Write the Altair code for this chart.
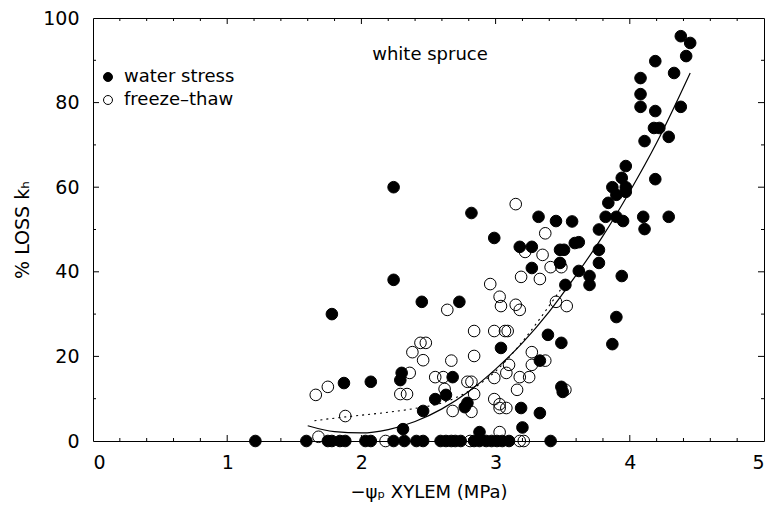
import altair as alt
import pandas as pd

# ---- data ----
ws_zero_x = [1.21, 1.59, 1.75, 1.78, 1.84, 1.88, 2.03, 2.07, 2.24, 2.32, 2.41, 2.46, 2.59, 2.63,
             2.67, 2.70, 2.74, 2.84, 2.88, 2.93, 2.97, 3.01, 3.05, 3.10, 3.41]
ws_x = [1.78, 1.87, 2.07, 2.24, 2.24, 2.29, 2.30, 2.31, 2.45, 2.46, 2.55, 2.63, 2.68, 2.73, 2.77,
        2.79, 2.82, 2.88, 2.99, 3.04, 3.19, 3.20, 3.18, 3.27, 3.27, 3.32, 3.33, 3.33, 3.39, 3.45,
        3.48, 3.48, 3.49, 3.49, 3.50, 3.51, 3.52, 3.57, 3.59, 3.62, 3.62, 3.70, 3.70, 3.77, 3.77,
        3.77, 3.82, 3.84, 3.87, 3.87, 3.90, 3.90, 3.90, 3.94, 3.94, 3.95, 3.97, 3.97, 3.97, 4.08,
        4.08, 4.08, 4.10, 4.11, 4.11, 4.18, 4.19, 4.19, 4.19, 4.22, 4.29, 4.29, 4.33, 4.38, 4.38,
        4.42, 4.45]
ws_y = [30.0, 13.7, 14.0, 60.0, 38.1, 14.4, 16.1, 2.8, 32.9, 7.1, 9.9, 10.9, 15.1, 32.9, 8.0,
        9.0, 53.9, 2.1, 48.0, 22.0, 7.8, 3.2, 45.9, 45.9, 40.9, 53.0, 19.0, 6.6, 25.1, 52.0,
        45.2, 42.1, 23.2, 12.8, 11.6, 45.2, 36.9, 51.9, 46.8, 47.0, 40.2, 39.0, 36.9, 50.0, 45.2,
        42.1, 53.0, 56.3, 60.0, 22.9, 58.2, 53.0, 29.3, 62.2, 39.0, 52.0, 60.0, 58.9, 65.0, 85.8,
        82.0, 79.0, 53.0, 50.1, 70.9, 74.0, 89.8, 78.0, 61.9, 74.0, 71.9, 53.0, 87.0, 95.7, 79.0,
        91.0, 94.1]

ft_zero_x = [2.18, 2.81, 3.18, 3.21]
ft_x = [1.68, 1.66, 1.75, 1.88, 2.29, 2.34, 2.36, 2.38, 2.44, 2.48, 2.46, 2.55, 2.61, 2.62, 2.64,
        2.67, 2.68, 2.79, 2.82, 2.82, 2.84, 2.84, 2.84, 2.96, 2.99, 2.99, 2.99, 3.03, 3.04, 3.03,
        3.03, 3.03, 3.08, 3.07, 3.09, 3.08, 3.10, 3.15, 3.15, 3.18, 3.16, 3.18, 3.19, 3.22, 3.25,
        3.27, 3.27, 3.33, 3.35, 3.37, 3.37, 3.41, 3.45, 3.49, 3.52, 3.53]
ft_y = [1.0, 10.9, 12.8, 5.9, 11.1, 11.1, 16.1, 21.0, 23.2, 23.2, 19.1, 15.1, 15.1, 12.3, 31.0,
        19.0, 7.1, 14.0, 14.0, 6.9, 26.0, 20.1, 11.1, 37.1, 26.0, 14.9, 9.9, 34.1, 31.9, 8.7,
        7.8, 2.1, 7.8, 26.0, 26.0, 16.1, 18.0, 56.0, 32.2, 31.0, 12.1, 15.1, 38.8, 44.7, 15.1,
        21.0, 18.0, 38.3, 44.0, 49.1, 19.0, 41.1, 32.9, 41.1, 12.1, 31.9]

fit_ws_x = [1.6, 1.8, 2.0, 2.2, 2.4, 2.6, 2.8, 3.0, 3.2, 3.4, 3.6, 3.8, 4.0, 4.2, 4.45]
fit_ws_y = [3.6, 2.2, 1.9, 2.7, 4.6, 7.6, 11.7, 17.0, 23.2, 30.6, 39.2, 48.5, 59.0, 70.5, 87.0]
fit_ft_x = [1.65, 1.8, 2.0, 2.2, 2.4, 2.6, 2.8, 3.0, 3.2, 3.4, 3.5]
fit_ft_y = [4.8, 5.4, 6.1, 6.8, 7.7, 9.0, 11.8, 16.5, 23.5, 32.0, 36.5]

x_labels = [0, 1, 2, 3, 4, 5]
y_labels = [0, 20, 40, 60, 80, 100]
x_major = [1, 2, 3, 4]
x_minor = [0.2, 0.4, 0.6, 0.8, 1.2, 1.4, 1.6, 1.8, 2.2, 2.4, 2.6, 2.8, 3.2, 3.4, 3.6, 3.8,
           4.2, 4.4, 4.6, 4.8]
y_major = [20, 40, 60, 80]
y_minor = [10, 30, 50, 70, 90]

W, H = 671, 423
FONT = "DejaVu Sans"

pts = pd.DataFrame({
    "x": ws_zero_x + ws_x + ft_zero_x + ft_x,
    "y": [0.0] * len(ws_zero_x) + ws_y + [0.0] * len(ft_zero_x) + ft_y,
    "series": ["water stress"] * (len(ws_zero_x) + len(ws_x))
              + ["freeze\u2013thaw"] * (len(ft_zero_x) + len(ft_x)),
})
pts["order"] = (pts["series"] == "water stress").astype(int)

xs = alt.Scale(domain=[0, 5], nice=False, zero=False)
ys = alt.Scale(domain=[0, 100], nice=False, zero=False)
xaxis = alt.Axis(
    values=x_labels, format="d", title="\u2212\u03c8\u209a XYLEM (MPa)", grid=False,
    ticks=False, tickSize=0, domain=False, labelPadding=12, titlePadding=11,
    labelFontSize=19, titleFontSize=18, labelFont=FONT, titleFont=FONT,
    titleFontWeight="normal", labelColor="black", titleColor="black")
yaxis = alt.Axis(
    values=y_labels, format="d", title="% LOSS k\u2095", grid=False,
    ticks=False, tickSize=0, domain=False, labelPadding=14, titlePadding=10,
    labelFontSize=19, titleFontSize=19, labelFont=FONT, titleFont=FONT,
    titleFontWeight="normal", labelColor="black", titleColor="black")

def X(f):
    return alt.X(f, scale=xs, axis=xaxis)

def Y(f):
    return alt.Y(f, scale=ys, axis=yaxis)

points = alt.Chart(pts).mark_point(
    shape="circle", size=135, stroke="black", strokeWidth=1, opacity=1
).encode(
    x=X("x:Q"),
    y=Y("y:Q"),
    fill=alt.Fill("series:N",
                  scale=alt.Scale(domain=["water stress", "freeze\u2013thaw"],
                                  range=["black", "transparent"]),
                  legend=alt.Legend(title=None, orient="none", legendX=6, legendY=50,
                                    symbolType="circle", symbolSize=80,
                                    symbolStrokeColor="black", symbolStrokeWidth=1,
                                    labelFontSize=18, labelFont=FONT, labelOffset=7,
                                    rowPadding=5, labelColor="black")),
    order=alt.Order("order:Q"),
)

ws_fit = alt.Chart(pd.DataFrame({"x": fit_ws_x, "y": fit_ws_y})).mark_line(
    color="black", strokeWidth=1.2, interpolate="monotone"
).encode(x=X("x:Q"), y=Y("y:Q"))

ft_fit = alt.Chart(pd.DataFrame({"x": fit_ft_x, "y": fit_ft_y})).mark_line(
    color="black", strokeWidth=1.1, strokeDash=[2, 4], interpolate="monotone"
).encode(x=X("x:Q"), y=Y("y:Q"))

def xticks(vals, length):
    d = pd.DataFrame({"x": vals})
    bot = alt.Chart(d).mark_rule(color="black", strokeWidth=1).encode(
        x=X("x:Q"), y=alt.value(H), y2=alt.value(H - length))
    top = alt.Chart(d).mark_rule(color="black", strokeWidth=1).encode(
        x=X("x:Q"), y=alt.value(0), y2=alt.value(length))
    return [bot, top]

def yticks(vals, length):
    d = pd.DataFrame({"y": vals})
    left = alt.Chart(d).mark_rule(color="black", strokeWidth=1).encode(
        y=Y("y:Q"), x=alt.value(0), x2=alt.value(length))
    right = alt.Chart(d).mark_rule(color="black", strokeWidth=1).encode(
        y=Y("y:Q"), x=alt.value(W), x2=alt.value(W - length))
    return [left, right]

label = alt.Chart(pd.DataFrame({"t": ["white spruce"]})).mark_text(
    font=FONT, fontSize=18, color="black", align="center", baseline="middle"
).encode(text="t:N", x=alt.value(337), y=alt.value(37))

layers = [points] + (xticks(x_major, 6) + xticks(x_minor, 3) + yticks(y_major, 6)
                     + yticks(y_minor, 3) + [ws_fit, ft_fit, label])

chart = alt.layer(*layers).properties(
    width=W, height=H,
    autosize=alt.AutoSizeParams(type="none"),
    padding={"left": 85, "top": 10, "right": 2, "bottom": 70},
    background="white",
).configure_view(
    stroke="black", strokeWidth=1
)

chart.save("out.html", embed_options={"renderer": "svg", "actions": False})
